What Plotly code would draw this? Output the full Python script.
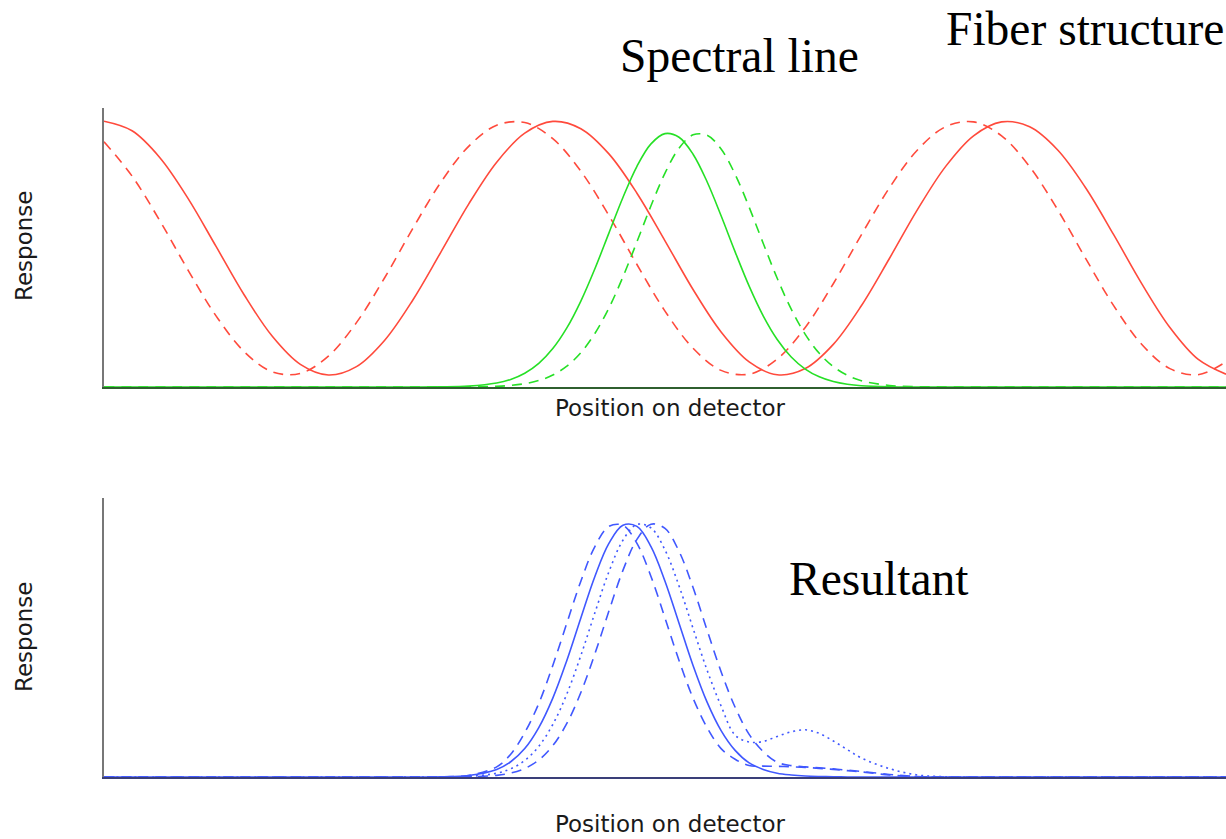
import plotly.graph_objects as go

# ---- data -------------------------------------------------------------
# detector position (arbitrary units across the full detector width)
fiber_x = [0, 2.5, 5, 7.5, 10, 12.5, 15, 17.5, 20, 22.5, 25, 27.5, 30, 32.5, 35, 37.5, 40,
           42.5, 45, 47.5, 50, 52.5, 55, 57.5, 60, 62.5, 65, 67.5, 70, 72.5, 75, 77.5, 80,
           82.5, 85, 87.5, 90, 92.5, 95, 97.5, 100]
fiber_solid = [1.0, 0.9642, 0.8621, 0.7091, 0.5281, 0.3462, 0.1908, 0.0852, 0.0451, 0.0767,
               0.1751, 0.3257, 0.5058, 0.6884, 0.8461, 0.9553, 0.9995, 0.9721, 0.8773, 0.7293,
               0.5502, 0.367, 0.2072, 0.0946, 0.0461, 0.0693, 0.1603, 0.3057, 0.4836, 0.6674,
               0.8294, 0.9454, 0.9979, 0.9791, 0.8919, 0.7491, 0.5724, 0.3882, 0.224, 0.1049,
               0.0482]
fiber_shifted = [0.9227, 0.7938, 0.6241, 0.4392, 0.2668, 0.1327, 0.0571, 0.0514, 0.1163, 0.2422,
                 0.4101, 0.5949, 0.7691, 0.9058, 0.9852, 0.9953, 0.9344, 0.8119, 0.6456, 0.4611,
                 0.2857, 0.146, 0.0626, 0.0483, 0.1051, 0.2243, 0.3887, 0.5728, 0.7495, 0.8922,
                 0.9793, 0.9979, 0.9452, 0.8291, 0.667, 0.4832, 0.3053, 0.1601, 0.0691, 0.0462,
                 0.0948]

line_x = [0, 20, 25, 27.5, 30, 32.5, 35, 36.25, 37.5, 38.75, 40, 41.25, 42.5, 43.75, 45,
          46.25, 47.5, 48.75, 50, 51.25, 52.5, 53.75, 55, 56.25, 57.5, 58.75, 60, 61.25,
          62.5, 63.75, 65, 66.25, 67.5, 70, 72.5, 75, 77.5, 80, 100]
line_solid = [0, 0, 0, 0.0001, 0.0006, 0.0034, 0.0148, 0.0284, 0.0517, 0.0888, 0.1445, 0.2222,
              0.3234, 0.445, 0.5792, 0.7132, 0.8306, 0.915, 0.9535, 0.9398, 0.8761, 0.7726,
              0.6445, 0.5085, 0.3795, 0.2679, 0.1789, 0.1131, 0.0675, 0.0382, 0.0204, 0.0103,
              0.0049, 0.001, 0.0002, 0, 0, 0, 0]
line_shifted = [0, 0, 0, 0, 0.0001, 0.0005, 0.0028, 0.0061, 0.0125, 0.0244, 0.045, 0.0784,
                0.1292, 0.2015, 0.297, 0.4143, 0.5465, 0.6819, 0.8049, 0.8986, 0.9489, 0.9478,
                0.8956, 0.8004, 0.6766, 0.5411, 0.4092, 0.2928, 0.1982, 0.1268, 0.0768, 0.044,
                0.0238, 0.0059, 0.0012, 0.0002, 0, 0, 0]

res_x = line_x
res_solid = [0, 0, 0, 0, 0.0008, 0.0057, 0.0297, 0.0601, 0.112, 0.1947, 0.311, 0.4594, 0.627,
             0.7907, 0.921, 0.9924, 0.988, 0.9085, 0.772, 0.6065, 0.44, 0.2953, 0.183, 0.1049,
             0.0555, 0.03, 0.015, 0.008, 0.004, 0.002, 0.001, 0, 0, 0, 0, 0, 0, 0, 0]
res_left = [0, 0, 0, 0, 0.001, 0.006, 0.04, 0.09, 0.175, 0.29, 0.44, 0.6065, 0.772, 0.9085,
            0.988, 0.9924, 0.921, 0.7907, 0.627, 0.4594, 0.311, 0.1947, 0.112, 0.07, 0.045,
            0.043, 0.042, 0.04, 0.038, 0.034, 0.03, 0.025, 0.02, 0.008, 0.001, 0, 0, 0, 0]
res_right = [0, 0, 0, 0, 0, 0.001, 0.0066, 0.0155, 0.0334, 0.0669, 0.1236, 0.211, 0.333,
             0.4854, 0.654, 0.8146, 0.937, 0.9969, 0.98, 0.8898, 0.747, 0.5793, 0.415, 0.275,
             0.168, 0.1, 0.058, 0.045, 0.04, 0.036, 0.032, 0.027, 0.022, 0.01, 0.002, 0, 0, 0, 0]
res_dotted = [0, 0, 0, 0, 0.0003, 0.0025, 0.015, 0.0325, 0.065, 0.1208, 0.207, 0.3273, 0.479,
              0.6473, 0.809, 0.9335, 0.996, 0.9819, 0.895, 0.7532, 0.586, 0.4214, 0.28, 0.165,
              0.138, 0.14, 0.16, 0.178, 0.186, 0.172, 0.142, 0.108, 0.075, 0.033, 0.008, 0.001,
              0, 0, 0]

# ---- styling ----------------------------------------------------------
W, H = 1226, 839
RED, GREEN, BLUE = "#ff4a3c", "#26e026", "#4058ff"
DASH = "10px,7px"
DOT = "2px,4px"
LW = 1.6

fig = go.Figure()


def add(x, y, color, dash, axis):
    fig.add_trace(go.Scatter(
        x=x, y=y, mode="lines", xaxis="x" + axis, yaxis="y" + axis,
        line=dict(color=color, width=LW, dash=dash, shape="spline", smoothing=1.0),
        hoverinfo="skip", showlegend=False))


# upper panel: fiber structure and spectral line
add(fiber_x, fiber_solid, RED, "solid", "")
add(fiber_x, fiber_shifted, RED, DASH, "")
add(line_x, line_solid, GREEN, "solid", "")
add(line_x, line_shifted, GREEN, DASH, "")

# lower panel: resultant profiles
add(res_x, res_solid, BLUE, "solid", "2")
add(res_x, res_left, BLUE, DASH, "2")
add(res_x, res_right, BLUE, DASH, "2")
add(res_x, res_dotted, BLUE, DOT, "2")


def px_to_paper_y(py):
    return 1 - py / H


x_dom = [104 / W, 1.0]
top_dom = [px_to_paper_y(387), px_to_paper_y(108)]
bot_dom = [px_to_paper_y(777), px_to_paper_y(498)]

common = dict(showgrid=False, zeroline=False, showticklabels=False, ticks="",
              showline=True, linewidth=2, fixedrange=True)

fig.update_layout(
    width=W, height=H,
    margin=dict(l=0, r=0, t=0, b=0),
    paper_bgcolor="white", plot_bgcolor="white",
    xaxis=dict(domain=x_dom, range=[0, 100], anchor="y", linecolor="#2f5f2f", **common),
    yaxis=dict(domain=top_dom, range=[0, 1.05], anchor="x", linecolor="#777777", **common),
    xaxis2=dict(domain=x_dom, range=[0, 100], anchor="y2", linecolor="#3a3f78", **common),
    yaxis2=dict(domain=bot_dom, range=[0, 1.1], anchor="x2", linecolor="#777777", **common),
)

SERIF = dict(family="Liberation Serif, Times New Roman, serif", size=47.5, color="#000000")
SANS = dict(family="DejaVu Sans, sans-serif", size=23, color="#1a1a1a")

notes = [
    dict(text="Spectral line", x=739 / W, y=px_to_paper_y(56), xanchor="center", yanchor="middle", font=SERIF),
    dict(text="Fiber structure", x=944 / W, y=px_to_paper_y(29), xanchor="left", yanchor="middle", font=SERIF),
    dict(text="Resultant", x=878 / W, y=px_to_paper_y(579), xanchor="center", yanchor="middle", font=SERIF),
    dict(text="Position on detector", x=670 / W, y=px_to_paper_y(408), xanchor="center", yanchor="middle", font=SANS),
    dict(text="Position on detector", x=670 / W, y=px_to_paper_y(824), xanchor="center", yanchor="middle", font=SANS),
    dict(text="Response", x=24 / W, y=px_to_paper_y(246), xanchor="center", yanchor="middle", textangle=-90, font=SANS),
    dict(text="Response", x=24 / W, y=px_to_paper_y(637), xanchor="center", yanchor="middle", textangle=-90, font=SANS),
]
for n in notes:
    fig.add_annotation(xref="paper", yref="paper", showarrow=False, **n)

fig.write_html("out.html")
